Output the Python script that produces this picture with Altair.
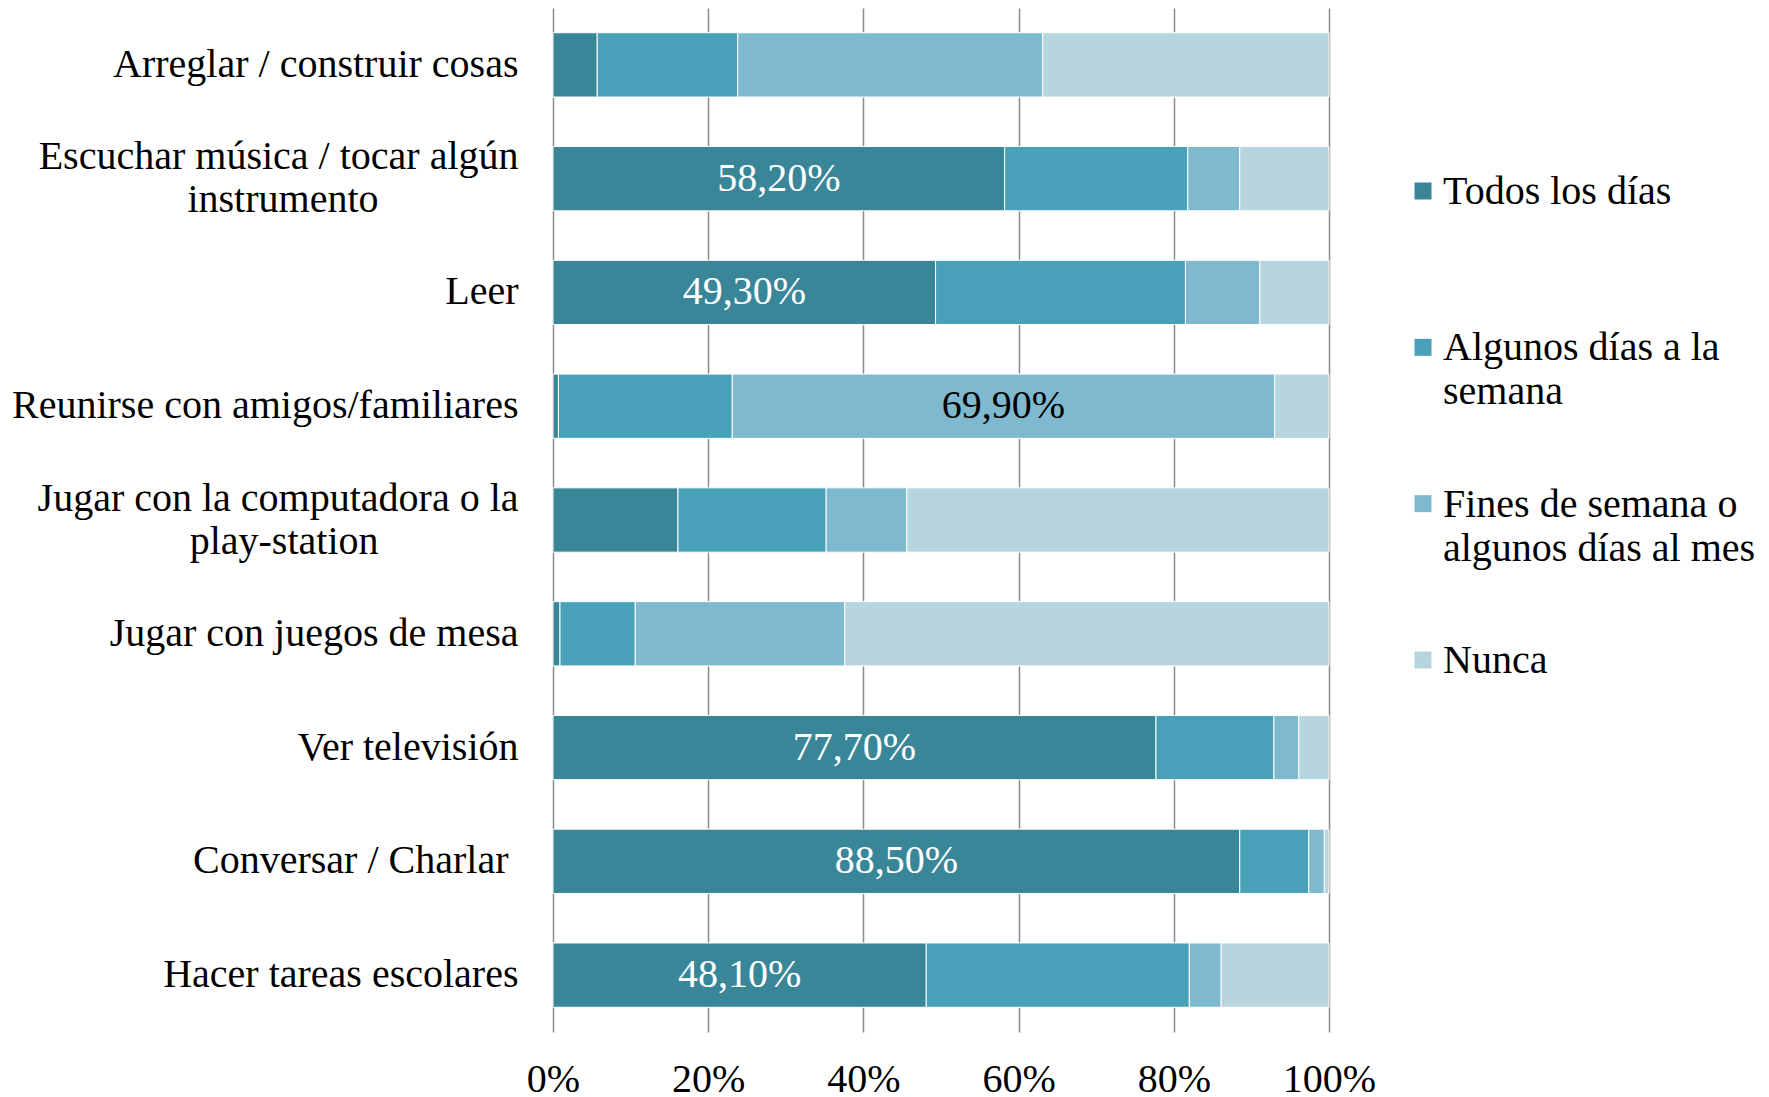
import altair as alt
import pandas as pd

NB = "\u00a0"
ZW = "\u200b"
activities = [
    "Arreglar / construir cosas",
    "Escuchar música / tocar algún\ninstrumento" + NB * 14 + ZW,
    "Leer",
    "Reunirse con amigos/familiares",
    "Jugar con la computadora o la\nplay-station" + NB * 14 + ZW,
    "Jugar con juegos de mesa",
    "Ver televisión",
    "Conversar / Charlar" + NB + ZW,
    "Hacer tareas escolares",
]
freqs = ["Todos los días", "Algunos días a la semana",
         "Fines de semana o algunos días al mes", "Nunca"]
legend_text = ["Todos los días", "Algunos días a la\nsemana",
               "Fines de semana o\nalgunos días al mes", "Nunca"]

todos = [5.7, 58.2, 49.3, 0.7, 16.1, 0.9, 77.7, 88.5, 48.1]
algunos = [18.1, 23.6, 32.2, 22.4, 19.1, 9.7, 15.2, 8.9, 33.9]
fines = [39.3, 6.7, 9.6, 69.9, 10.4, 27.0, 3.2, 2.0, 4.1]
nunca = [36.9, 11.5, 8.9, 7.0, 54.4, 62.4, 3.9, 0.6, 13.9]

label_todos = ["", "58,20%", "49,30%", "", "", "", "77,70%", "88,50%", "48,10%"]
label_algunos = [""] * 9
label_fines = ["", "", "", "69,90%", "", "", "", "", ""]
label_nunca = [""] * 9

series = [todos, algunos, fines, nunca]
labels = [label_todos, label_algunos, label_fines, label_nunca]

rows = []
for i, a in enumerate(activities):
    for j, f in enumerate(freqs):
        rows.append({"activity": a, "freq": f, "order": j,
                     "value": series[j][i], "label": labels[j][i]})
df = pd.DataFrame(rows)

FONT = "Liberation Serif"
colors = ["#3A8699", "#48A1B9", "#7FB9CF", "#B6D5DF"]
color_scale = alt.Scale(domain=freqs, range=colors)

base = alt.Chart(df).transform_stack(
    stack="value", groupby=["activity"],
    sort=[alt.SortField("order", "ascending")], as_=["x0", "x1"]
).transform_calculate(mid="(datum.x0 + datum.x1) / 2")

multi_test = "indexof(datum.label, '\\n') >= 0"
y_main = alt.Y(
    "activity:N", sort=activities, title=None,
    scale=alt.Scale(paddingInner=0.435, paddingOuter=0.2175),
    axis=alt.Axis(labelExpr="split(datum.label, '\\n')", labelFont=FONT,
                  labelFontSize=40, labelColor="black", labelLineHeight=43,
                  labelOffset={"condition": {"test": multi_test, "value": -21.5},
                               "value": 0},
                  labelPadding=35, ticks=False, tickSize=0, domain=False,
                  labelLimit=0, grid=False),
)

bars = base.mark_bar(stroke="white", strokeWidth=1).encode(
    x=alt.X("x0:Q", title=None,
            scale=alt.Scale(domain=[0, 100], nice=False),
            axis=alt.Axis(values=[0, 20, 40, 60, 80, 100],
                          labelExpr="datum.value + '%'", grid=True,
                          gridColor="#8c8c8c", gridWidth=1.5, ticks=False,
                          tickSize=0, domain=False, labelFont=FONT,
                          labelFontSize=40, labelPadding=27,
                          labelColor="black", labelFlush=False,
                          labelOverlap=False)),
    x2="x1:Q",
    y=y_main,
    color=alt.Color("freq:N", scale=color_scale, legend=None),
)

texts = base.transform_filter("datum.label != ''").mark_text(
    font=FONT, fontSize=40, baseline="middle"
).encode(
    x="mid:Q",
    y=alt.Y("activity:N", sort=activities),
    text="label:N",
    color=alt.condition("datum.order == 0", alt.value("white"), alt.value("black")),
)

leg_df = pd.DataFrame({"freq": freqs, "text": legend_text})
y_leg = alt.Y("freq:N", sort=freqs, axis=None,
              scale=alt.Scale(type="point", range=[183, 652], padding=0))

leg_sym = alt.Chart(leg_df).mark_square(size=289, opacity=1).encode(
    x=alt.value(870), y=y_leg,
    color=alt.Color("freq:N", scale=color_scale, legend=None),
)
leg_txt = alt.Chart(leg_df).mark_text(
    align="left", baseline="alphabetic", dy=13, font=FONT, fontSize=40,
    lineBreak="\n", lineHeight=44, color="black"
).encode(x=alt.value(890), y=y_leg, text="text:N")

main = alt.layer(bars, texts)
legend = alt.layer(leg_sym, leg_txt)

chart = alt.layer(main, legend).resolve_scale(y="independent").properties(
    width=776, height=1024,
    padding={"left": 3, "top": 0, "right": 0, "bottom": 0},
    background="white",
).configure_view(stroke=None)

chart.save("out.html", embed_options={"renderer": "svg", "actions": False})
